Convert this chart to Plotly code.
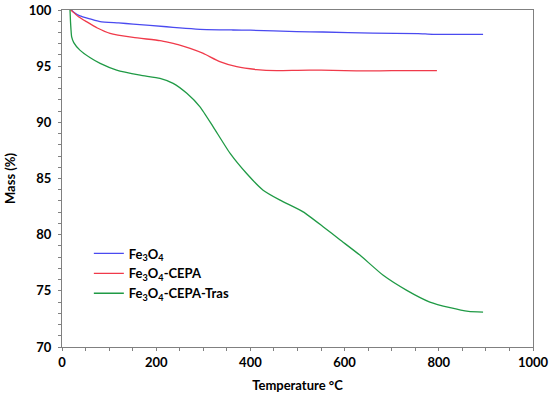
import plotly.graph_objects as go

fe_x = [20, 25, 38, 60, 81, 120, 151, 222, 250, 293, 363, 400, 498, 554, 660, 756, 788, 894]
fe_y = [100, 99.8, 99.47, 99.2, 98.96, 98.85, 98.75, 98.51, 98.4, 98.28, 98.22, 98.2, 98.07, 98.04, 97.95, 97.9, 97.83, 97.83]

cepa_x = [18, 20.5, 35, 52, 75, 102, 151, 208, 229, 250, 272, 300, 335, 371, 413, 456, 500, 550, 600, 650, 700, 750, 796]
cepa_y = [100, 99.94, 99.4, 98.96, 98.4, 97.92, 97.56, 97.27, 97.09, 96.88, 96.59, 96.14, 95.4, 94.95, 94.7, 94.6, 94.63, 94.65, 94.6, 94.58, 94.6, 94.6, 94.6]

tras_x = [17, 18, 19, 20.5, 25, 38, 60, 81, 116, 166, 208, 236, 265, 293, 321, 357, 392, 427, 463, 512, 555, 590, 633, 682, 732, 781, 824, 863, 894]
tras_y = [100, 99, 98.3, 97.6, 97.1, 96.43, 95.75, 95.25, 94.65, 94.2, 93.91, 93.47, 92.58, 91.38, 89.6, 87.23, 85.44, 83.96, 83.07, 82.03, 80.69, 79.55, 78.16, 76.38, 75.04, 74.0, 73.5, 73.17, 73.11]

names = ["Fe<sub>3</sub>O<sub>4</sub>", "Fe<sub>3</sub>O<sub>4</sub>-CEPA", "Fe<sub>3</sub>O<sub>4</sub>-CEPA-Tras"]
colors = ["#4a4af0", "#f03a4a", "#1f9a45"]

fig = go.Figure()
for xs, ys, n, c in zip([fe_x, cepa_x, tras_x], [fe_y, cepa_y, tras_y], names, colors):
    fig.add_trace(go.Scatter(x=xs, y=ys, name=n, mode="lines",
                             line=dict(color=c, width=1.3, shape="spline", smoothing=0.5)))

font_family = "Lato"
axis_common = dict(showline=True, linecolor="#808080", linewidth=1, mirror=True, automargin=False,
                   ticks="outside", ticklen=3, tickcolor="#808080", showgrid=False, zeroline=False,
                   tickfont=dict(family=font_family, size=13, color="#000", weight="bold"))

fig.update_xaxes(range=[0, 1000], tickvals=[0, 200, 400, 600, 800, 1000],
                 minor=dict(dtick=50, ticks="outside", ticklen=3, tickcolor="#808080"),
                 ticklabelstandoff=0,
                 title=dict(text="Temperature °C", font=dict(family=font_family, size=13, color="#000", weight="bold"), standoff=12),
                 **axis_common)
fig.update_yaxes(range=[70, 100], tickvals=[70, 75, 80, 85, 90, 95, 100],
                 minor=dict(dtick=1, ticks="outside", ticklen=3, tickcolor="#808080"),
                 ticklabelstandoff=4,
                 title=dict(text="Mass (%)", font=dict(family=font_family, size=13, color="#000", weight="bold"), standoff=10),
                 **axis_common)

fig.update_layout(
    width=550, height=398,
    margin=dict(l=62, r=17, t=10, b=51),
    paper_bgcolor="white", plot_bgcolor="white",
    showlegend=True,
    legend=dict(x=0.057, y=0.322, xanchor="left", yanchor="top", bgcolor="rgba(0,0,0,0)",
                font=dict(family=font_family, size=13, color="#000", weight="bold"),
                itemwidth=30),
)

fig.write_html("out.html", config={"displayModeBar": False},
               post_script="document.body.style.margin='0';")
